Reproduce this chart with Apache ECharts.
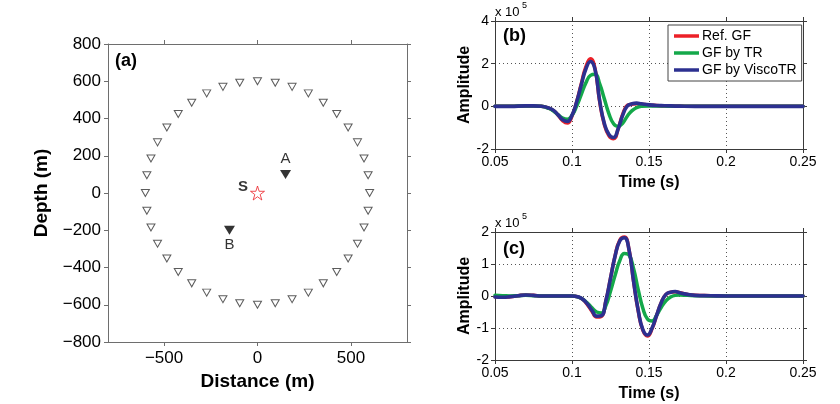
<!DOCTYPE html>
<html>
<head>
<meta charset="utf-8">
<script src="https://cdn.jsdelivr.net/npm/echarts@6/dist/echarts.min.js"></script>
<style>
html,body{margin:0;padding:0;background:#fff;}
#chart{width:840px;height:404px;}
</style>
</head>
<body>
<div id="chart"></div>
<script>
// ---------- Panel (a) data ----------
var receivers = [
  [0,600],[95,592],[185,570],[272,535],[352,485],[424,424],[485,352],[535,272],[570,185],[592,95],
  [600,0],[592,-95],[570,-185],[535,-272],[485,-352],[424,-424],[352,-485],[272,-535],[185,-570],[95,-592],
  [0,-600],[-95,-592],[-185,-570],[-272,-535],[-352,-485],[-424,-424],[-485,-352],[-535,-272],[-570,-185],[-592,-95],
  [-600,0],[-592,95],[-570,185],[-535,272],[-485,352],[-424,424],[-352,485],[-272,535],[-185,570],[-95,592]
];
var stationA = [150, 100];
var stationB = [-150, -200];
var sourceS = [0, 0];
var distTicks = [-500, 0, 500];

// ---------- Panel (b) data (amplitude x 1e5) ----------
var timeB = [0.05,0.06,0.07,0.075,0.08,0.085,0.088,0.091,0.094,0.097,0.1,0.103,0.106,0.109,0.112,0.115,0.118,0.121,0.124,0.127,0.13,0.133,0.136,0.139,0.142,0.145,0.15,0.155,0.16,0.17,0.18,0.2,0.25];
var refB   = [0,0,0.02,0.02,0,-0.08,-0.2,-0.42,-0.68,-0.78,-0.45,0.2,1.05,1.85,2.23,1.75,0.2,-0.85,-1.38,-1.52,-1.05,-0.35,0.05,0.1,0.12,0.1,0.06,0.04,0.02,0.01,0,0,0];
var trB    = [0,0,0.02,0.02,0,-0.1,-0.22,-0.4,-0.55,-0.6,-0.42,0,0.55,1.1,1.45,1.5,1.05,0.35,-0.35,-0.82,-0.94,-0.78,-0.45,-0.2,-0.06,0,0.02,0.02,0.01,0,0,0,0];
var viscoB = [0,0,0.02,0.02,0,-0.08,-0.19,-0.4,-0.63,-0.71,-0.42,0.2,1.0,1.75,2.1,1.72,0.25,-0.8,-1.32,-1.46,-1.05,-0.4,0.02,0.12,0.15,0.12,0.07,0.04,0.03,0.01,0,0,0];

// ---------- Panel (c) data (amplitude x 1e5) ----------
var timeC = [0.05,0.055,0.06,0.065,0.07,0.075,0.08,0.09,0.1,0.104,0.107,0.11,0.113,0.116,0.119,0.122,0.125,0.128,0.131,0.134,0.137,0.14,0.143,0.146,0.149,0.152,0.155,0.158,0.161,0.164,0.167,0.17,0.175,0.18,0.19,0.2,0.25];
var refC   = [-0.02,-0.03,-0.02,0.01,0.03,0.02,0,0,0,-0.03,-0.11,-0.27,-0.48,-0.66,-0.64,-0.15,0.55,1.26,1.74,1.84,1.46,0.45,-0.47,-1.07,-1.25,-1.02,-0.6,-0.2,0.05,0.12,0.13,0.1,0.05,0.02,0.01,0,0];
var trC    = [0.02,0.01,0,0.01,0.02,0.01,0,0,0,-0.03,-0.1,-0.22,-0.37,-0.5,-0.53,-0.3,0.15,0.65,1.1,1.33,1.28,0.85,0.2,-0.38,-0.72,-0.78,-0.6,-0.35,-0.15,-0.03,0.02,0.03,0.02,0.01,0,0,0];
var viscoC = [-0.03,-0.04,-0.02,0.01,0.03,0.02,0,0,0,-0.03,-0.1,-0.25,-0.45,-0.63,-0.62,-0.15,0.55,1.25,1.72,1.82,1.45,0.45,-0.45,-1.05,-1.22,-1.0,-0.6,-0.2,0.05,0.12,0.14,0.1,0.05,0.02,0.01,0,0];

var seriesNames = ['Ref. GF', 'GF by TR', 'GF by ViscoTR'];
var seriesColors = ['#ec2027', '#14a84a', '#2c3090'];

var FONT = '"Liberation Sans", Arial, Helvetica, sans-serif';

function pairs(t, v) { return t.map(function (x, i) { return [x, v[i]]; }); }
function minusFmt(v) { return v < 0 ? '\u2212' + Math.abs(v) : String(v); }

var chart = echarts.init(document.getElementById('chart'), null, { renderer: 'canvas' });

var frameA = { show: true, onZero: false, lineStyle: { color: '#6e6e6e', width: 1 } };
var frameBC = { show: true, onZero: false, lineStyle: { color: '#3a3a3a', width: 1 } };
var dotted = { show: true, lineStyle: { color: '#555', width: 1, type: [1, 3] } };

function waveX(grid, pos, labels) {
  return {
    type: 'value', gridIndex: grid, position: pos, min: 0.05, max: 0.25, interval: 0.05,
    axisLine: frameBC,
    axisTick: { show: true, inside: false, length: 4, lineStyle: { color: '#3a3a3a' } },
    axisLabel: { show: labels, color: '#000', fontSize: 14, fontFamily: FONT, margin: 6,
      formatter: function (v) { return String(+v.toFixed(2)); } },
    splitLine: pos === 'bottom' ? dotted : { show: false },
    name: labels ? 'Time (s)' : '', nameLocation: 'middle', nameGap: 26,
    nameTextStyle: { color: '#000', fontSize: 16, fontWeight: 'bold', fontFamily: FONT }
  };
}
function waveY(grid, pos, mn, mx, iv, labels) {
  return {
    type: 'value', gridIndex: grid, position: pos, min: mn, max: mx, interval: iv,
    axisLine: frameBC,
    axisTick: { show: true, inside: false, length: 4, lineStyle: { color: '#3a3a3a' } },
    axisLabel: { show: labels, color: '#000', fontSize: 14, fontFamily: FONT, margin: 6 },
    splitLine: pos === 'left' ? dotted : { show: false },
    name: labels ? 'Amplitude' : '', nameLocation: 'middle', nameGap: 22,
    nameTextStyle: { color: '#000', fontSize: 16, fontWeight: 'bold', fontFamily: FONT }
  };
}
function waveSeries(name, color, xi, yi, data, w) {
  return {
    type: 'line', name: name, xAxisIndex: xi, yAxisIndex: yi, data: data,
    showSymbol: false, smooth: 0.5,
    lineStyle: { color: color, width: w, join: 'round', cap: 'round' }, itemStyle: { color: color },
    emphasis: { disabled: true }, animation: false
  };
}

var star = 'path://M50,2 L61,36 L97,36 L68,57 L79,92 L50,71 L21,92 L32,57 L3,36 L39,36 Z';

var option = {
  backgroundColor: '#ffffff',
  animation: false,
  textStyle: { fontFamily: FONT },
  grid: [
    { left: 108, top: 44, width: 299, height: 298 },
    { left: 495, top: 21, width: 308, height: 128 },
    { left: 495, top: 232, width: 308, height: 128 }
  ],
  legend: {
    data: seriesNames,
    orient: 'vertical', left: 668, top: 25,
    backgroundColor: '#fff', borderColor: '#444', borderWidth: 1,
    padding: [3, 5, 3, 6], itemGap: 1, itemWidth: 25, itemHeight: 3.5, icon: 'rect',
    textStyle: { color: '#000', fontSize: 14, fontFamily: FONT, padding: [0, 0, 0, -2], lineHeight: 16 },
    selectedMode: false
  },
  xAxis: [
    { type: 'value', gridIndex: 0, position: 'bottom', min: -800, max: 800,
      axisLine: frameA,
      axisTick: { show: true, length: 4, customValues: distTicks, lineStyle: { color: '#6e6e6e' } },
      axisLabel: { color: '#000', fontSize: 17, fontFamily: FONT, margin: 8, customValues: distTicks, formatter: minusFmt },
      splitLine: { show: false },
      name: 'Distance (m)', nameLocation: 'middle', nameGap: 30,
      nameTextStyle: { color: '#000', fontSize: 19, fontWeight: 'bold', fontFamily: FONT } },
    { type: 'value', gridIndex: 0, position: 'top', min: -800, max: 800,
      axisLine: frameA,
      axisTick: { show: true, length: 4, customValues: distTicks, lineStyle: { color: '#6e6e6e' } },
      axisLabel: { show: false }, splitLine: { show: false } },
    waveX(1, 'bottom', true),
    waveX(1, 'top', false),
    waveX(2, 'bottom', true),
    waveX(2, 'top', false)
  ],
  yAxis: [
    { type: 'value', gridIndex: 0, position: 'left', min: -800, max: 800, interval: 200,
      axisLine: frameA,
      axisTick: { show: true, length: 4, lineStyle: { color: '#6e6e6e' } },
      axisLabel: { color: '#000', fontSize: 17, fontFamily: FONT, margin: 7, formatter: minusFmt },
      splitLine: { show: false },
      name: 'Depth (m)', nameLocation: 'middle', nameGap: 57,
      nameTextStyle: { color: '#000', fontSize: 19, fontWeight: 'bold', fontFamily: FONT } },
    { type: 'value', gridIndex: 0, position: 'right', min: -800, max: 800, interval: 200,
      axisLine: frameA,
      axisTick: { show: true, length: 4, lineStyle: { color: '#6e6e6e' } },
      axisLabel: { show: false }, splitLine: { show: false } },
    waveY(1, 'left', -2, 4, 2, true),
    waveY(1, 'right', -2, 4, 2, false),
    waveY(2, 'left', -2, 2, 1, true),
    waveY(2, 'right', -2, 2, 1, false)
  ],
  series: [
    { type: 'scatter', name: 'receivers', xAxisIndex: 0, yAxisIndex: 0, data: receivers,
      symbol: 'triangle', symbolRotate: 180, symbolSize: [8, 7],
      itemStyle: { color: '#fff', borderColor: '#333', borderWidth: 1 }, silent: true },
    { type: 'scatter', name: 'A', xAxisIndex: 0, yAxisIndex: 0, data: [stationA],
      symbol: 'triangle', symbolRotate: 180, symbolSize: [11, 9],
      itemStyle: { color: '#000' }, silent: true,
      label: { show: true, position: 'top', distance: 4, formatter: 'A', color: '#000', fontSize: 15, fontFamily: FONT } },
    { type: 'scatter', name: 'B', xAxisIndex: 0, yAxisIndex: 0, data: [stationB],
      symbol: 'triangle', symbolRotate: 180, symbolSize: [11, 9],
      itemStyle: { color: '#000' }, silent: true,
      label: { show: true, position: 'bottom', distance: 3, formatter: 'B', color: '#000', fontSize: 15, fontFamily: FONT } },
    { type: 'scatter', name: 'S', xAxisIndex: 0, yAxisIndex: 0, data: [sourceS],
      symbol: star, symbolSize: 14,
      itemStyle: { color: '#fff', borderColor: '#ec2027', borderWidth: 1 }, silent: true,
      label: { show: true, position: 'left', distance: 2, offset: [0, -6], formatter: 'S', color: '#000', fontSize: 15, fontWeight: 'bold', fontFamily: FONT } },

    waveSeries(seriesNames[0], seriesColors[0], 2, 2, pairs(timeB, refB), 3.5),
    waveSeries(seriesNames[1], seriesColors[1], 2, 2, pairs(timeB, trB), 3.5),
    waveSeries(seriesNames[2], seriesColors[2], 2, 2, pairs(timeB, viscoB), 3.6),
    waveSeries(seriesNames[0], seriesColors[0], 4, 4, pairs(timeC, refC), 3.5),
    waveSeries(seriesNames[1], seriesColors[1], 4, 4, pairs(timeC, trC), 3.5),
    waveSeries(seriesNames[2], seriesColors[2], 4, 4, pairs(timeC, viscoC), 3.6)
  ],
  graphic: [
    { type: 'text', left: 115, top: 52, style: { text: '(a)', fill: '#000', font: 'bold 18px ' + FONT } },
    { type: 'text', left: 503, top: 27, style: { text: '(b)', fill: '#000', font: 'bold 18px ' + FONT } },
    { type: 'text', left: 503, top: 240, style: { text: '(c)', fill: '#000', font: 'bold 18px ' + FONT } },
    { type: 'text', left: 495, top: 6, style: { text: 'x 10', fill: '#000', font: '13px ' + FONT } },
    { type: 'text', left: 522, top: 1, style: { text: '5', fill: '#000', font: '9px ' + FONT } },
    { type: 'text', left: 495, top: 217, style: { text: 'x 10', fill: '#000', font: '13px ' + FONT } },
    { type: 'text', left: 522, top: 212, style: { text: '5', fill: '#000', font: '9px ' + FONT } }
  ]
};
chart.setOption(option);
</script>
</body>
</html>
